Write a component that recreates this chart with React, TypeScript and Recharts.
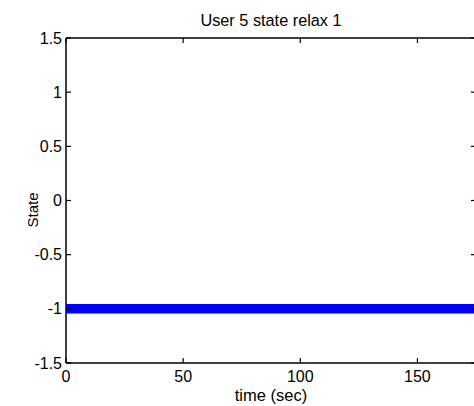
import React from 'react';
import { LineChart, Line, XAxis, YAxis } from 'recharts';

const titleText = 'User 5 state relax 1';
const xLabelText = 'time (sec)';
const yLabelText = 'State';

const timeValues = [0, 5, 10, 15, 20, 25, 30, 35, 40, 45, 50, 55, 60, 65, 70, 75, 80, 85, 90, 95, 100, 105, 110, 115, 120, 125, 130, 135, 140, 145, 150, 155, 160, 165, 170, 175];
const stateValues = [-1, -1, -1, -1, -1, -1, -1, -1, -1, -1, -1, -1, -1, -1, -1, -1, -1, -1, -1, -1, -1, -1, -1, -1, -1, -1, -1, -1, -1, -1, -1, -1, -1, -1, -1, -1];

const xTicks = [0, 50, 100, 150];
const yTicks = [-1.5, -1, -0.5, 0, 0.5, 1, 1.5];
const xDomain = [0, 175];
const yDomain = [-1.5, 1.5];

const data = timeValues.map((t, i) => ({ t, state: stateValues[i] }));

const FONT = "'Liberation Sans', Arial, Helvetica, sans-serif";
const TICK_LEN = 5;

const W = 490;
const H = 406;
const LEFT_W = 66;
const RIGHT_W = 14;
const TOP_H = 38;
const BOTTOM_H = 43;

const fmt = (v: number) => String(v);

const LeftTick = (props: any) => {
  const { x, y, payload } = props;
  return (
    <g>
      <line x1={x} y1={y} x2={x + TICK_LEN} y2={y} stroke="#000" strokeWidth={1.2} />
      <text x={x - 4} y={y} textAnchor="end" dominantBaseline="central" fontSize={16} fontFamily={FONT} fill="#000">
        {fmt(payload.value)}
      </text>
    </g>
  );
};

const RightTick = (props: any) => {
  const { x, y } = props;
  return <line x1={x} y1={y} x2={x - TICK_LEN} y2={y} stroke="#000" strokeWidth={1.2} />;
};

const BottomTick = (props: any) => {
  const { x, y, payload } = props;
  return (
    <g>
      <line x1={x} y1={y} x2={x} y2={y - TICK_LEN} stroke="#000" strokeWidth={1.2} />
      <text x={x} y={y + 19} textAnchor="middle" fontSize={16} fontFamily={FONT} fill="#000">
        {fmt(payload.value)}
      </text>
    </g>
  );
};

const TopTick = (props: any) => {
  const { x, y } = props;
  return <line x1={x} y1={y} x2={x} y2={y + TICK_LEN} stroke="#000" strokeWidth={1.2} />;
};

const FirstDot = (props: any) => {
  const { cx, cy, index } = props;
  if (index !== 0 || cx == null || cy == null) return <g key={`d${index}`} />;
  return <circle key={`d${index}`} cx={cx} cy={cy} r={4.75} fill="#0000ff" />;
};

export default function App() {
  const plotLeft = LEFT_W;
  const plotRight = W - RIGHT_W;
  const cx = (plotLeft + plotRight) / 2;
  return (
    <div style={{ position: 'absolute', left: 0, top: 0, width: 474, height: 406, overflow: 'hidden', background: '#fff' }}>
      <LineChart width={W} height={H} data={data} margin={{ top: 0, right: 0, bottom: 0, left: 0 }}>
        <XAxis
          xAxisId="bottom"
          dataKey="t"
          type="number"
          domain={xDomain}
          ticks={xTicks}
          orientation="bottom"
          height={BOTTOM_H}
          tickSize={0}
          tickMargin={0}
          tick={<BottomTick />}
          axisLine={{ stroke: '#000', strokeWidth: 1.5 }}
          allowDataOverflow
        />
        <XAxis
          xAxisId="top"
          dataKey="t"
          type="number"
          domain={xDomain}
          ticks={xTicks}
          orientation="top"
          height={TOP_H}
          tickSize={0}
          tickMargin={0}
          tick={<TopTick />}
          axisLine={{ stroke: '#000', strokeWidth: 1.5 }}
          allowDataOverflow
        />
        <YAxis
          yAxisId="left"
          type="number"
          domain={yDomain}
          ticks={yTicks}
          orientation="left"
          width={LEFT_W}
          tickSize={0}
          tickMargin={0}
          tick={<LeftTick />}
          axisLine={{ stroke: '#000', strokeWidth: 1.5 }}
          allowDataOverflow
        />
        <YAxis
          yAxisId="right"
          type="number"
          domain={yDomain}
          ticks={yTicks}
          orientation="right"
          width={RIGHT_W}
          tickSize={0}
          tickMargin={0}
          tick={<RightTick />}
          axisLine={{ stroke: '#000', strokeWidth: 1.5 }}
          allowDataOverflow
        />
        <Line
          xAxisId="top"
          yAxisId="right"
          dataKey="state"
          stroke="none"
          dot={false}
          legendType="none"
          isAnimationActive={false}
        />
        <Line
          xAxisId="bottom"
          yAxisId="left"
          dataKey="state"
          stroke="#0000ff"
          strokeWidth={9.5}
          dot={<FirstDot />}
          isAnimationActive={false}
        />
      </LineChart>
      <svg width={474} height={406} style={{ position: 'absolute', left: 0, top: 0, pointerEvents: 'none' }}>
        <text x={cx} y={26} textAnchor="middle" fontSize={16.3} fontFamily={FONT} fill="#000">{titleText}</text>
        <text x={cx} y={401} textAnchor="middle" fontSize={16.5} fontFamily={FONT} fill="#000">{xLabelText}</text>
        <text x={0} y={0} transform="translate(38,210) rotate(-90)" textAnchor="middle" fontSize={15} fontFamily={FONT} fill="#000">{yLabelText}</text>
      </svg>
    </div>
  );
}
